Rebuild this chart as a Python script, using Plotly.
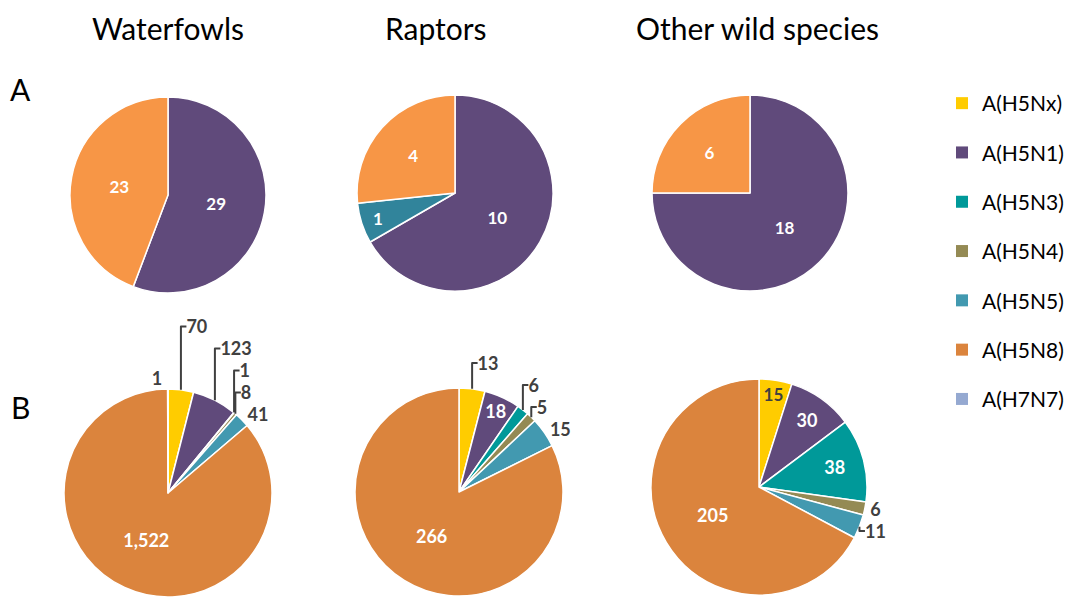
import plotly.graph_objects as go

# The page body adds an 8px margin, so the figure is drawn 8px in from the window edge.
OFF = 8
W, H = 1077 - OFF, 597 - OFF

# ---------------- data ----------------
columns = ["Waterfowls", "Raptors", "Other wild species"]
rows = ["A", "B"]
subtypes = ["A(H5Nx)", "A(H5N1)", "A(H5N3)", "A(H5N4)", "A(H5N5)", "A(H5N8)", "A(H7N7)"]

# Row A
a_labels_waterfowls = ["A(H5N1)", "A(H5N8)"]
a_values_waterfowls = [29, 23]
a_labels_raptors = ["A(H5N1)", "A(H5N5)", "A(H5N8)"]
a_values_raptors = [10, 1, 4]
a_labels_other = ["A(H5N1)", "A(H5N8)"]
a_values_other = [18, 6]

# Row B (order follows `subtypes`)
b_values_waterfowls = [70, 123, 1, 8, 41, 1522, 1]
b_values_raptors = [13, 18, 6, 5, 15, 266, 0]
b_values_other = [15, 30, 38, 6, 11, 205, 0]

# ---------------- styles ----------------
colors_b = {
    "A(H5Nx)": "#FFCC00",
    "A(H5N1)": "#604A7B",
    "A(H5N3)": "#009999",
    "A(H5N4)": "#948A54",
    "A(H5N5)": "#4299B0",
    "A(H5N8)": "#DB843D",
    "A(H7N7)": "#95A9D1",
}
colors_a = {
    "A(H5N1)": "#604A7B",
    "A(H5N5)": "#31849B",
    "A(H5N8)": "#F79646",
}
DARK = "#404040"
FONT = "Lato"

# label placement per subtype for row B pies
b_pos = {
    "Waterfowls": {"A(H5N8)": "inside"},
    "Raptors": {"A(H5N1)": "inside", "A(H5N8)": "inside"},
    "Other wild species": {"A(H5Nx)": "inside", "A(H5N1)": "inside",
                            "A(H5N3)": "inside", "A(H5N8)": "inside"},
}

# pie geometry in window pixels: (cx, cy, r)
geom = {
    ("A", "Waterfowls"): (168, 195, 98),
    ("A", "Raptors"): (455, 193, 98),
    ("A", "Other wild species"): (750, 193, 98),
    ("B", "Waterfowls"): (168, 493, 104),
    ("B", "Raptors"): (459, 492, 104),
    ("B", "Other wild species"): (759, 487, 108),
}


def px(x):
    return (x - OFF) / W


def py(y):
    return 1 - (y - OFF) / H


def domain(key):
    cx, cy, r = geom[key]
    return dict(x=[px(cx - r), px(cx + r)], y=[py(cy + r), py(cy - r)])


fig = go.Figure()

a_data = {
    "Waterfowls": (a_labels_waterfowls, a_values_waterfowls),
    "Raptors": (a_labels_raptors, a_values_raptors),
    "Other wild species": (a_labels_other, a_values_other),
}
for col, (labs, vals) in a_data.items():
    fig.add_trace(go.Pie(
        labels=labs, values=vals, sort=False, direction="clockwise", rotation=0,
        marker=dict(colors=[colors_a[l] for l in labs], line=dict(color="white", width=1.5)),
        textinfo="value", textposition="inside", insidetextorientation="horizontal",
        insidetextfont=dict(color="white", size=17, family=FONT, weight="bold"),
        domain=domain(("A", col)), showlegend=False, hoverinfo="label+value",
        automargin=False,
    ))

b_data = {
    "Waterfowls": b_values_waterfowls,
    "Raptors": b_values_raptors,
    "Other wild species": b_values_other,
}
for col, vals in b_data.items():
    labs = [s for s, v in zip(subtypes, vals) if v > 0]
    vv = [v for v in vals if v > 0]
    pos = [b_pos[col].get(l, "outside") for l in labs]
    inside_colors = [DARK if l == "A(H5Nx)" else "white" for l in labs]
    fig.add_trace(go.Pie(
        labels=labs, values=vv, sort=False, direction="clockwise", rotation=0,
        marker=dict(colors=[colors_b[l] for l in labs], line=dict(color="white", width=1.5)),
        texttemplate="%{value:,}", textposition=pos, insidetextorientation="horizontal",
        insidetextfont=dict(color=inside_colors, size=18, family=FONT, weight="bold"),
        outsidetextfont=dict(color=DARK, size=18, family=FONT, weight="bold"),
        domain=domain(("B", col)), showlegend=False, hoverinfo="label+value",
        automargin=False,
    ))

# legend entries
for s in subtypes:
    fig.add_trace(go.Scatter(
        x=[None], y=[None], mode="markers", name=s, legendgroup=s,
        marker=dict(symbol="square", size=13, color=colors_b[s]),
        showlegend=True, hoverinfo="skip",
    ))

# column titles and row letters (window pixel positions)
col_x = {"Waterfowls": 168, "Raptors": 436, "Other wild species": 757}
for c in columns:
    fig.add_annotation(x=px(col_x[c]), y=1, xref="paper", yref="paper",
                       text=c, showarrow=False, xanchor="center", yanchor="top",
                       font=dict(size=30, family=FONT, color="black"))
row_y = {"A": 89, "B": 407}
for r in rows:
    fig.add_annotation(x=px(20), y=py(row_y[r]), xref="paper", yref="paper",
                       text=r, showarrow=False, xanchor="center", yanchor="middle",
                       font=dict(size=30, family=FONT, color="black"))

fig.update_layout(
    width=W, height=H,
    margin=dict(l=0, r=0, t=0, b=0, autoexpand=False),
    paper_bgcolor="white", plot_bgcolor="white",
    xaxis=dict(visible=False), yaxis=dict(visible=False),
    legend=dict(x=px(942), y=py(83), xanchor="left", yanchor="top",
                font=dict(size=21, family=FONT, color="black"),
                tracegroupgap=19, itemsizing="constant", bgcolor="rgba(0,0,0,0)"),
)

fig.write_html("out.html")
